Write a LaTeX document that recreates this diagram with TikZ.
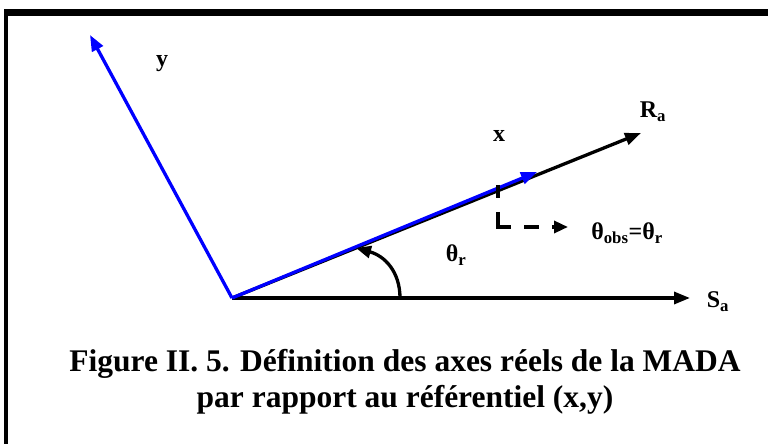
\documentclass[tikz,border=0pt]{standalone}
\usepackage{fontspec}
\setmainfont{Liberation Serif}
\usetikzlibrary{arrows.meta}
\begin{document}
\begin{tikzpicture}[x=1pt,y=1pt,
  axisline/.style={line width=3.3pt,-{Triangle[length=16pt,width=12pt]}},
  blueaxis/.style={axisline,blue},
  lbl/.style={font=\fontsize{24}{26}\selectfont\bfseries,inner sep=0pt},
  caption/.style={font=\fontsize{31.5}{36}\selectfont\bfseries,inner sep=0pt,anchor=base}]
\useasboundingbox (0,0) rectangle (768,444);
% frame
\fill (4,428) rectangle (768,435);
\fill (4,0) rectangle (8,435);
% points
\coordinate (O) at (232,146);
\coordinate (Sa) at (690,146);
\coordinate (Ra) at (641,311);
\coordinate (X) at (537,272);
\coordinate (Y) at (90,409);
\coordinate (tickA) at (498,259);
\coordinate (tickB) at (498,246);
\coordinate (Ltop) at (498,232);
\coordinate (Lcorner) at (498,217);
\coordinate (Lend) at (568,217);
\coordinate (arcA) at (400,146);
\coordinate (arcB) at (356,196);
% axes
\draw[axisline] (O) -- (Sa);
\draw[axisline] (O) -- (Ra);
\draw[blueaxis] (O) -- (X);
\draw[blueaxis] (O) -- (Y);
% tick and observer arrow
\draw[line width=3.3pt] (tickA) -- (tickB);
\draw[line width=3.3pt,dash pattern=on 28pt off 13pt on 15pt off 13pt,
      -{Triangle[length=14pt,width=12pt]}] (Ltop) -- (Lcorner) -- (Lend);
% angle arc
\draw[line width=3.3pt,-{Triangle[length=15pt,width=12pt]}]
  (arcA) .. controls (400,172) and (385,188) .. (arcB);
% labels
\node[lbl] (lS) at (718,142) {S\textsubscript{a}};
\node[lbl] (lR) at (653,332) {R\textsubscript{a}};
\node[lbl] (lx) at (499,308) {x};
\node[lbl] (ly) at (162,380) {y};
\node[lbl] (lth) at (456,189) {θ\textsubscript{r}};
\node[lbl] (lobs) at (627,211) {θ\textsubscript{obs}=θ\textsubscript{r}};
\node[caption] (cap1) at (405,72) {Figure II. 5. Définition des axes réels de la MADA};
\node[caption] (cap2) at (405,36) {par rapport au référentiel (x,y)};
\end{tikzpicture}
\end{document}
